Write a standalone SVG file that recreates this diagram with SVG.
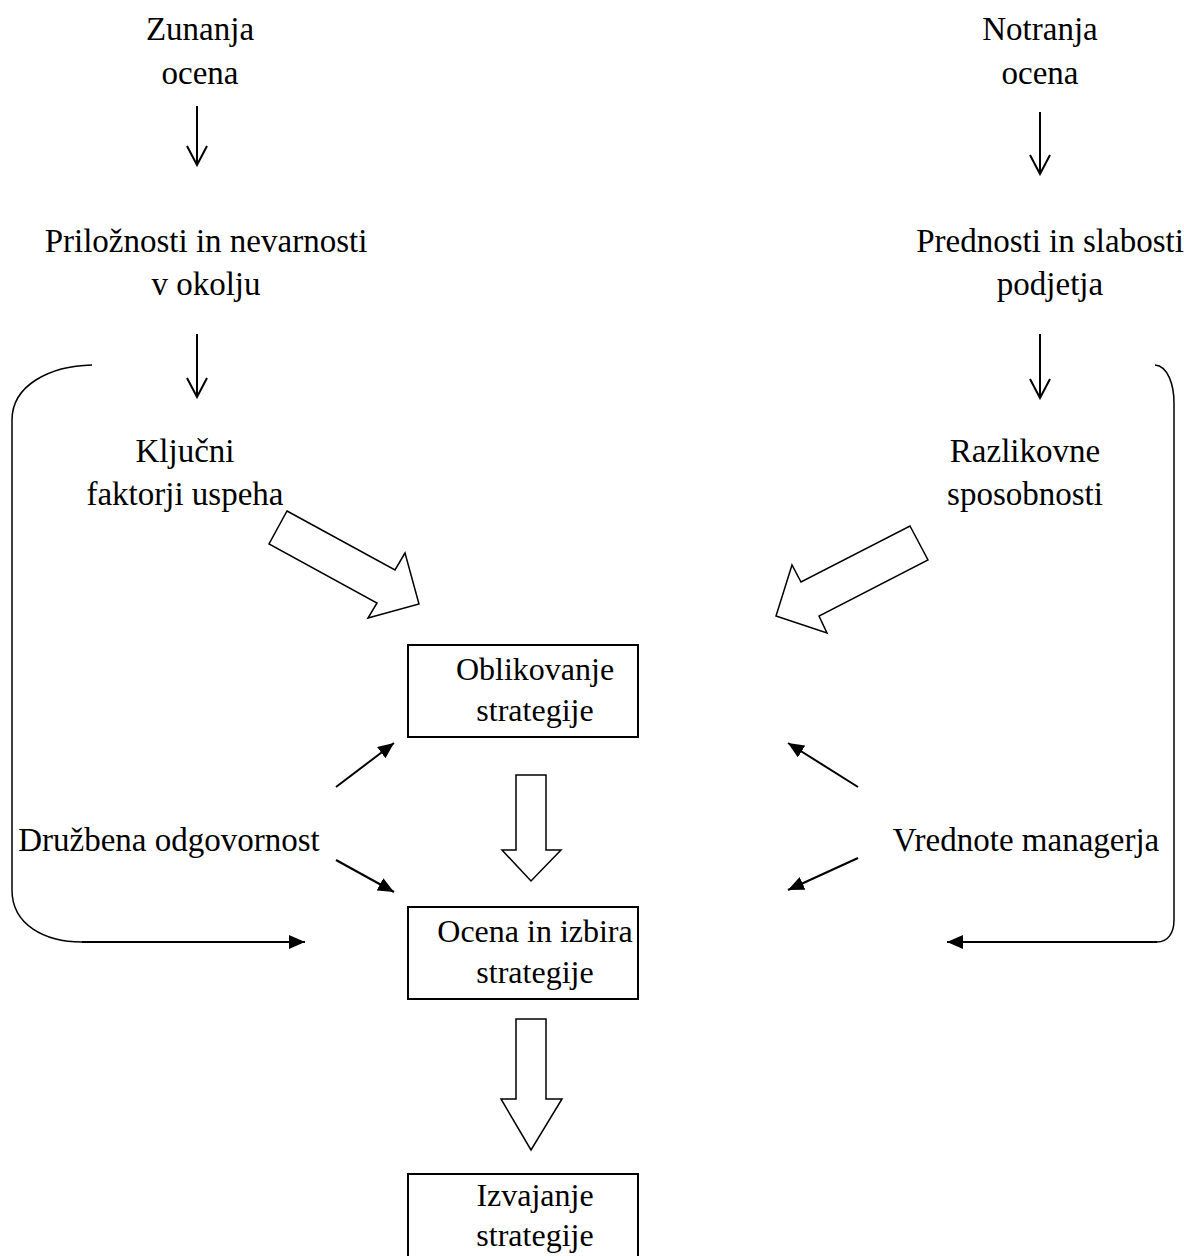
<svg xmlns="http://www.w3.org/2000/svg" width="1184" height="1256" viewBox="0 0 1184 1256">
<style>
text{font-family:"Liberation Serif","Times New Roman",serif;font-size:33px;fill:#000;text-anchor:middle}
text.b{font-size:32px}
.ln{fill:none;stroke:#000;stroke-width:2}
.thin{fill:none;stroke:#000;stroke-width:1.5}
.box{fill:#fff;stroke:#000;stroke-width:2}
.blk{fill:#fff;stroke:#000;stroke-width:1.5;stroke-linejoin:miter}
</style>
<defs>
<marker id="open" viewBox="-1 -1 22 22" refX="19" refY="10" markerWidth="22" markerHeight="22" markerUnits="userSpaceOnUse" orient="auto">
<path d="M0,0 L19,10 L0,20" fill="none" stroke="#000" stroke-width="2"/>
</marker>
<marker id="solid" viewBox="0 0 16 14" refX="16" refY="7" markerWidth="16" markerHeight="14" markerUnits="userSpaceOnUse" orient="auto">
<path d="M0,0 L16,7 L0,14 Z" fill="#000"/>
</marker>
</defs>
<g id="zunanja"><text x="200" y="40">Zunanja</text><text x="200" y="84">ocena</text></g>
<g id="notranja"><text x="1040" y="40">Notranja</text><text x="1040" y="84">ocena</text></g>
<g id="priloznosti"><text x="206" y="252">Priložnosti in nevarnosti</text><text x="206" y="295">v okolju</text></g>
<g id="prednosti"><text x="1050" y="252">Prednosti in slabosti</text><text x="1050" y="295">podjetja</text></g>
<g id="kljucni"><text x="185" y="462">Ključni</text><text x="185" y="505">faktorji uspeha</text></g>
<g id="razlikovne"><text x="1025" y="462">Razlikovne</text><text x="1025" y="505">sposobnosti</text></g>
<g id="druzbena"><text x="169" y="851">Družbena odgovornost</text></g>
<g id="vrednote"><text x="1026" y="851">Vrednote managerja</text></g>
<g id="oblikovanje"><rect class="box" x="408" y="645" width="230" height="92"/><text class="b" x="535" y="680">Oblikovanje</text><text class="b" x="535" y="721">strategije</text></g>
<g id="ocena"><rect class="box" x="408" y="907" width="230" height="92"/><text class="b" x="535" y="942">Ocena in izbira</text><text class="b" x="535" y="983">strategije</text></g>
<g id="izvajanje"><rect class="box" x="408" y="1174" width="230" height="92"/><text class="b" x="535" y="1206">Izvajanje</text><text class="b" x="535" y="1246">strategije</text></g>
<g id="connectors">
<line class="ln" x1="197" y1="106" x2="197" y2="165" marker-end="url(#open)"/>
<line class="ln" x1="1040" y1="112" x2="1040" y2="174" marker-end="url(#open)"/>
<line class="ln" x1="197" y1="334" x2="197" y2="397" marker-end="url(#open)"/>
<line class="ln" x1="1040" y1="334" x2="1040" y2="398" marker-end="url(#open)"/>
<polygon class="blk" points="287,511 395,570 405,553 419,604 368,618 377,603 269,544"/>
<polygon class="blk" points="910,526 928,560 819,616 827,633 776,616 792,565 801,582"/>
<polygon class="blk" points="516,775 546,775 546,850 561,850 531,881 502,850 516,850"/>
<polygon class="blk" points="516,1019 546,1019 546,1099 562,1099 531,1150 501,1099 516,1099"/>
<line class="ln" x1="336" y1="787" x2="394" y2="743" marker-end="url(#solid)"/>
<line class="ln" x1="336" y1="860" x2="394" y2="892" marker-end="url(#solid)"/>
<line class="ln" x1="858" y1="787" x2="788" y2="743" marker-end="url(#solid)"/>
<line class="ln" x1="858" y1="858" x2="788" y2="890" marker-end="url(#solid)"/>
<path class="thin" d="M92,365 C50,366 12,385 12,420 L12,890 C12,925 45,942 82,942"/>
<line class="ln" x1="82" y1="942" x2="305" y2="942" marker-end="url(#solid)"/>
<path class="thin" d="M1155,365 C1168,366 1174,385 1174,403 L1174,920 C1174,933 1168,942 1157,942"/>
<line class="ln" x1="1157" y1="942" x2="947" y2="942" marker-end="url(#solid)"/>
</g>
</svg>
